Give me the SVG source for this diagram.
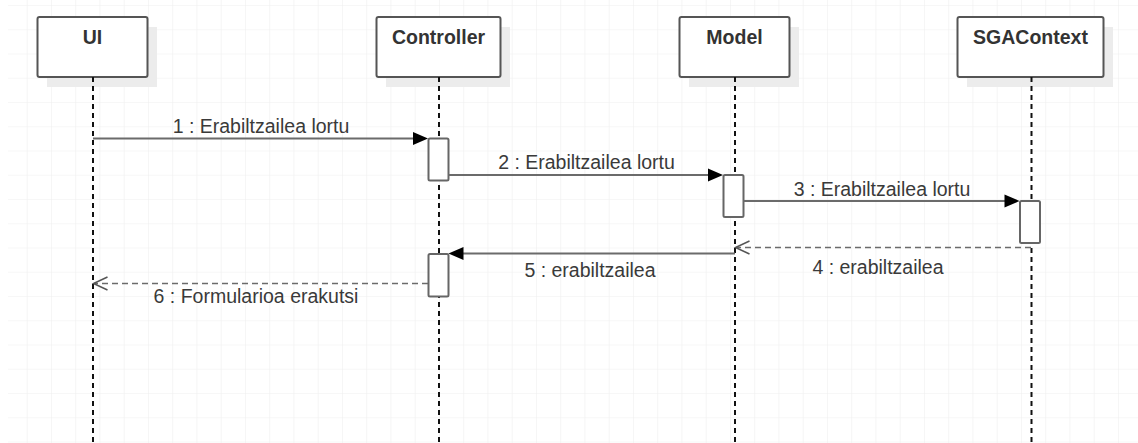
<svg xmlns="http://www.w3.org/2000/svg" width="1138" height="443" viewBox="0 0 1138 443">
  <style>
    .box { fill: #ffffff; stroke: #555555; stroke-width: 2; }
    .shadow { fill: #ececec; }
    .title { font-family: "Liberation Sans", Arial, sans-serif; font-size: 19.5px; font-weight: bold; fill: #333333; text-anchor: middle; }
    .lifeline { stroke: #111111; stroke-width: 2; stroke-dasharray: 5 4; fill: none; }
    .act { fill: #ffffff; stroke: #666666; stroke-width: 2; }
    .msg { stroke: #6b6b6b; stroke-width: 2; fill: none; }
    .ret { stroke: #6b6b6b; stroke-width: 1.5; stroke-dasharray: 6 4; fill: none; }
    .open { stroke: #555555; stroke-width: 1.5; fill: none; }
    .head { fill: #000000; }
    .label { font-family: "Liberation Sans", Arial, sans-serif; font-size: 19.5px; fill: #3a3a3a; text-anchor: middle; }
  </style>
  <defs>
    <pattern id="grid" patternUnits="userSpaceOnUse" x="2.45" y="5" width="24.25" height="24.25">
      <path d="M0 0 V24.25 M0 0 H24.25" stroke="#efefef" stroke-width="1.2" fill="none"/>
    </pattern>
  </defs>

  <rect width="1138" height="443" fill="#ffffff"/>
  <rect x="8" y="0" width="1130" height="443" fill="url(#grid)"/>

  <!-- participants with lifelines -->
  <g id="ui">
    <rect class="shadow" x="47" y="27" width="110" height="60"/>
    <rect class="box" x="37.5" y="17" width="110" height="60" rx="2"/>
    <line class="lifeline" x1="93" y1="77" x2="93" y2="443"/>
    <text class="title" x="92.5" y="43.5">UI</text>
  </g>
  <g id="controller">
    <rect class="shadow" x="386" y="27" width="124" height="60"/>
    <rect class="box" x="376.5" y="17" width="124" height="60" rx="2"/>
    <line class="lifeline" x1="439" y1="77" x2="439" y2="443"/>
    <text class="title" x="438.5" y="43.5">Controller</text>
  </g>
  <g id="model">
    <rect class="shadow" x="689" y="27" width="110" height="60"/>
    <rect class="box" x="679.5" y="17" width="110" height="60" rx="2"/>
    <line class="lifeline" x1="735" y1="77" x2="735" y2="443"/>
    <text class="title" x="734.5" y="43.5">Model</text>
  </g>
  <g id="sgacontext">
    <rect class="shadow" x="967" y="27" width="146" height="60"/>
    <rect class="box" x="957.5" y="17" width="146" height="60" rx="2"/>
    <line class="lifeline" x1="1031.5" y1="77" x2="1031.5" y2="443"/>
    <text class="title" x="1030.5" y="43.5">SGAContext</text>
  </g>

  <!-- activation bars -->
  <g id="activations">
    <rect class="act" x="428.5" y="138.5" width="20" height="42" rx="1.5"/>
    <rect class="act" x="723.5" y="175" width="20" height="42" rx="1.5"/>
    <rect class="act" x="1020" y="201" width="20" height="42" rx="1.5"/>
    <rect class="act" x="428.5" y="254" width="20" height="42.5" rx="1.5"/>
  </g>

  <!-- messages -->
  <g id="connectors">
    <line class="msg" x1="93" y1="138.5" x2="415" y2="138.5"/>
    <polygon class="head" points="428,138.5 413,132 413,145"/>

    <line class="msg" x1="448.5" y1="175" x2="710" y2="175"/>
    <polygon class="head" points="723,175 708,168.5 708,181.5"/>

    <line class="msg" x1="743.5" y1="201" x2="1006" y2="201"/>
    <polygon class="head" points="1019.5,201 1004.5,194.5 1004.5,207.5"/>

    <line class="ret" x1="1031" y1="247.5" x2="736" y2="247.5"/>
    <polyline class="open" points="749.5,241 735.5,247.5 749.5,254"/>

    <line class="msg" x1="735" y1="253.5" x2="462" y2="253.5"/>
    <polygon class="head" points="448.5,253.5 463.5,247 463.5,260"/>

    <line class="ret" x1="428" y1="283.5" x2="94" y2="283.5"/>
    <polyline class="open" points="107.5,277 93.5,283.5 107.5,290"/>
  </g>

  <!-- message labels -->
  <g id="labels">
    <text class="label" x="261" y="132.5">1 : Erabiltzailea lortu</text>
    <text class="label" x="586.5" y="169">2 : Erabiltzailea lortu</text>
    <text class="label" x="882" y="195.5">3 : Erabiltzailea lortu</text>
    <text class="label" x="878" y="273.5">4 : erabiltzailea</text>
    <text class="label" x="590" y="277">5 : erabiltzailea</text>
    <text class="label" x="256" y="302.5">6 : Formularioa erakutsi</text>
  </g>
</svg>
